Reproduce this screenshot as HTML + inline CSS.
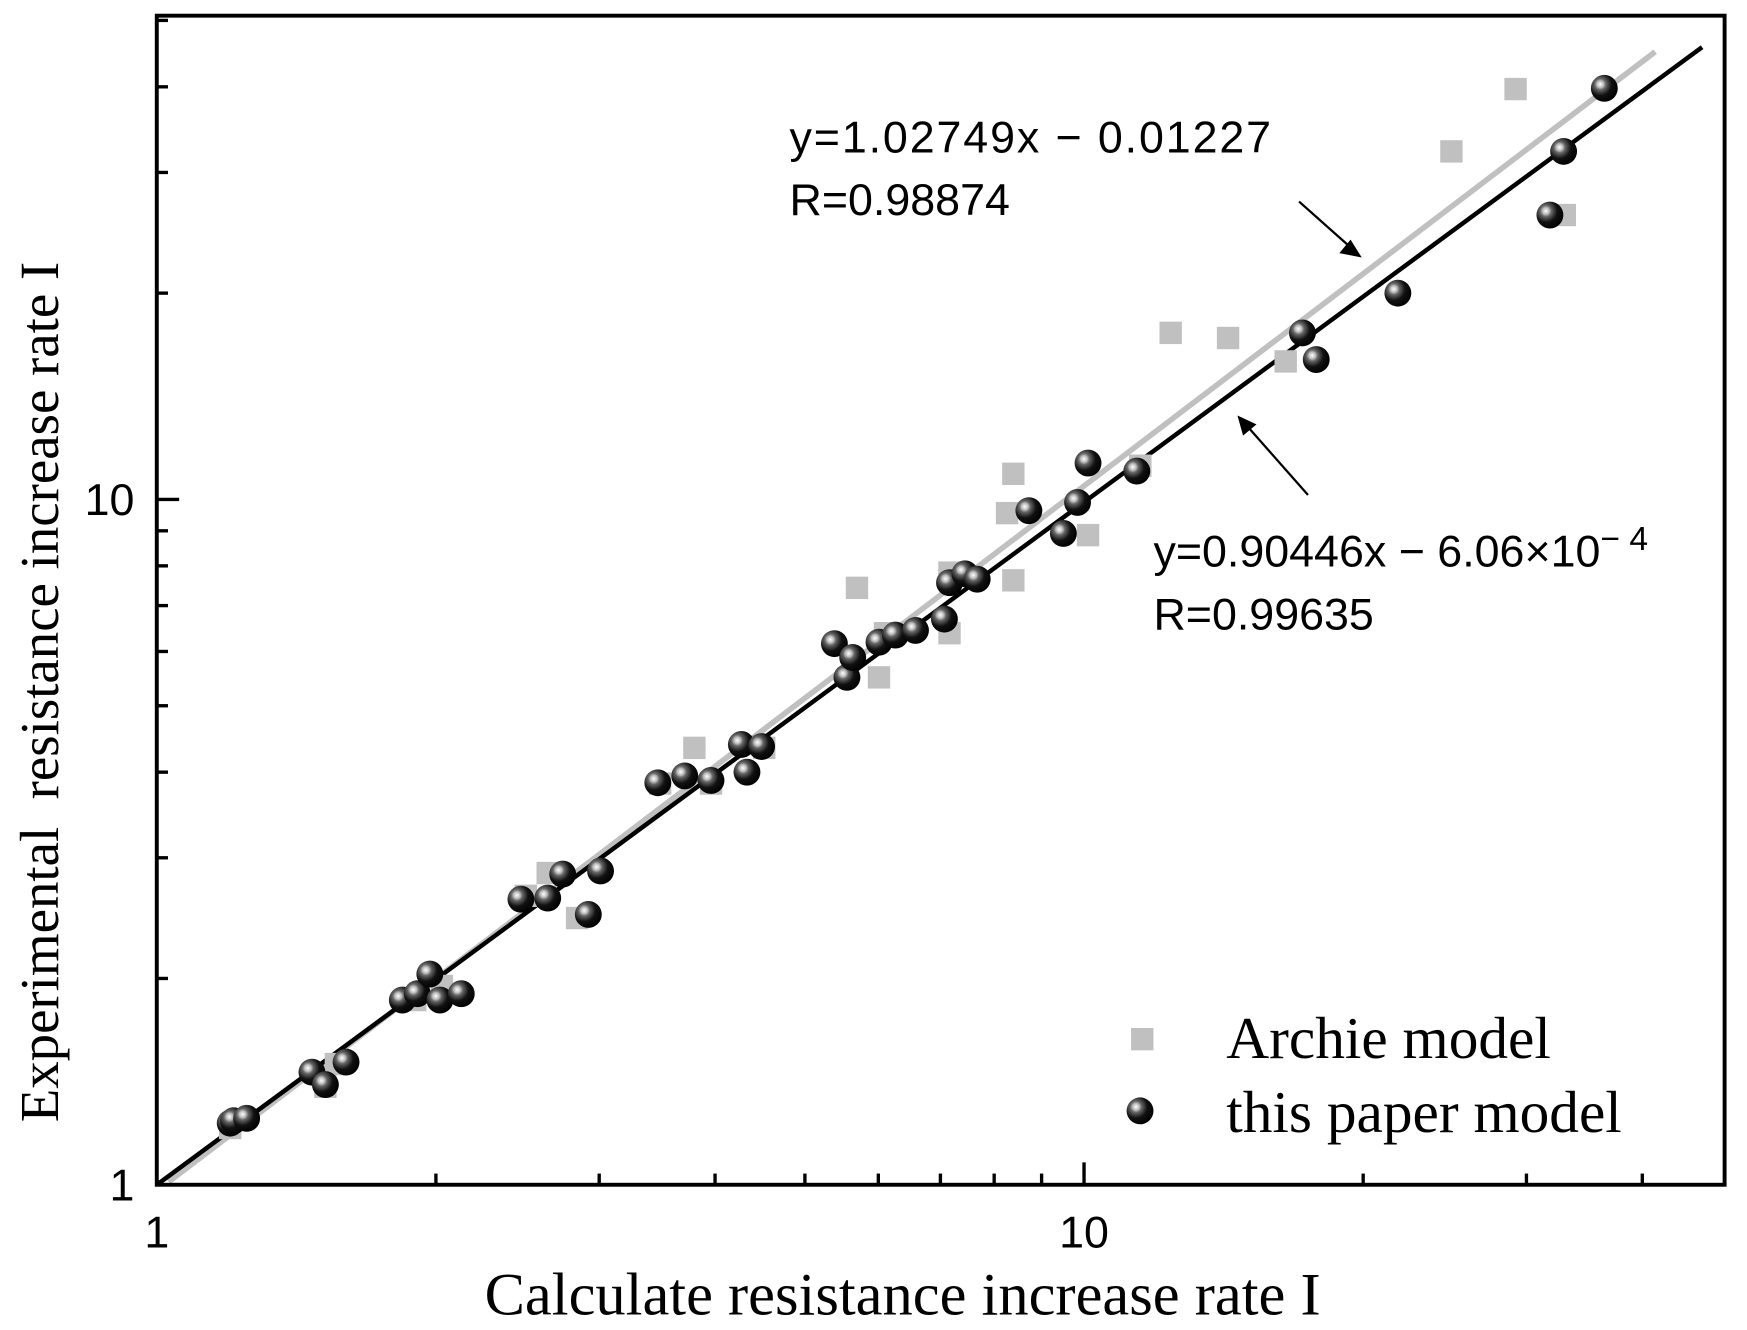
<!DOCTYPE html>
<html><head><meta charset="utf-8"><style>
html,body{margin:0;padding:0;background:#fff;}
svg{display:block;}
</style></head><body>
<svg id="chart" width="1747" height="1330" viewBox="0 0 1560 1187.7" preserveAspectRatio="none" xmlns="http://www.w3.org/2000/svg">
<defs>
<radialGradient id="sph" cx="0.35" cy="0.35" r="0.7">
<stop offset="0" stop-color="#fff"/><stop offset="0.18" stop-color="#bbb"/><stop offset="0.3" stop-color="#666"/><stop offset="0.6" stop-color="#111"/><stop offset="1" stop-color="#000"/>
</radialGradient>
</defs>
<g id="lines"></g>
<g id="marks"></g>
<g id="axes"></g>
<g font-family="Liberation Sans, sans-serif" font-size="40" fill="#000">
<text x="705" y="136" textLength="430">y=1.02749x − 0.01227</text>
<text x="705" y="192">R=0.98874</text>
<text x="1030" y="506">y=0.90446x − 6.06×10<tspan dy="-15" font-size="30">− 4</tspan></text>
<text x="1030" y="562">R=0.99635</text>
<line x1="1160" y1="180" x2="1205" y2="220" stroke="#000" stroke-width="2"/>
<polygon points="1216,230 1196,226 1206,214" fill="#000"/>
<line x1="1168" y1="442" x2="1115" y2="382" stroke="#000" stroke-width="2"/>
<polygon points="1105,371 1122,379 1110,389" fill="#000"/>
</g>
<g font-family="Liberation Serif, serif" font-size="53">
<rect x="1010" y="918" width="20" height="20" fill="#c0c0c0"/>
<text x="1095" y="945">Archie model</text>
<circle cx="1018" cy="992" r="12" fill="url(#sph)"/>
<text x="1095" y="1011">this paper model</text>
</g>
<text x="806" y="1174" text-anchor="middle" font-family="Liberation Serif, serif" font-size="54">Calculate resistance increase rate I</text>
<text transform="translate(52,618) rotate(-90)" text-anchor="middle" font-family="Liberation Serif, serif" font-size="49" xml:space="preserve">Experimental  resistance increase rate I</text>
</svg>
<script>
const archieX=[1.20,1.52,1.56,1.90,2.03,2.50,2.64,2.84,3.49,3.80,3.96,4.52,5.69,6.01,6.10,7.16,7.16,8.26,8.39,8.39,10.1,11.5,12.4,14.3,16.5,24.9,29.2,33.0];
const archieY=[1.21,1.39,1.50,1.86,1.95,2.64,2.85,2.45,3.85,4.34,3.85,4.34,7.43,5.50,6.38,6.38,7.82,9.55,10.9,7.62,8.87,11.2,17.5,17.2,15.9,32.2,39.7,26.0];
const paperX=[1.20,1.21,1.25,1.47,1.52,1.60,1.84,1.91,1.97,2.02,2.13,2.47,2.64,2.74,2.92,3.01,3.47,3.71,3.96,4.27,4.33,4.49,5.38,5.55,5.63,6.01,6.26,6.58,7.07,7.16,7.44,7.67,8.72,9.50,9.84,10.1,11.4,17.2,17.8,21.8,31.8,32.9,36.4];
const paperY=[1.23,1.24,1.25,1.46,1.40,1.51,1.86,1.90,2.03,1.86,1.90,2.61,2.62,2.84,2.48,2.87,3.86,3.95,3.89,4.39,4.00,4.36,6.16,5.50,5.88,6.19,6.34,6.44,6.69,7.56,7.79,7.65,9.63,8.92,9.90,11.3,11.0,17.5,16.0,20.0,26.0,32.2,39.8];
const archieFitX=[1.03,41.3], archieFitY=[1.01,45.0];
const paperFitX=[1.0,46.4], paperFitY=[1.0,45.7];
const xTickVals=[1,10], yTickVals=[1,10];
const xTickLabels=["1","10"], yTickLabels=["1","10"];
const minorVals=[2,3,4,5,6,7,8,9,20,30,40,50];

const L=140,R=1540,T=14,B=1058,XDEC=828,YDEC=612;
function sx(v){return L+Math.log10(v)*XDEC;}
function sy(v){return B-Math.log10(v)*YDEC;}
const NS="http://www.w3.org/2000/svg";
function mk(tag,parent,attrs){const e=document.createElementNS(NS,tag);for(const k in attrs)e.setAttribute(k,attrs[k]);parent.appendChild(e);return e;}
const lines=document.getElementById('lines'),marks=document.getElementById('marks'),axes=document.getElementById('axes');

let e=mk('line',lines,{x1:sx(archieFitX[0]),y1:sy(archieFitY[0]),x2:sx(archieFitX[1]),y2:sy(archieFitY[1]),stroke:'#c0c0c0','stroke-width':5});


e=mk('line',lines,{x1:sx(paperFitX[0]),y1:sy(paperFitY[0]),x2:sx(paperFitX[1]),y2:sy(paperFitY[1]),stroke:'#000','stroke-width':4});



for(let i=0;i<archieX.length;i++){
 const r=mk('rect',marks,{x:sx(archieX[i])-10,y:sy(archieY[i])-10,width:20,height:20,fill:'#c0c0c0'});
 
 
}
for(let i=0;i<paperX.length;i++){
 const c=mk('circle',marks,{cx:sx(paperX[i]),cy:sy(paperY[i]),r:12,fill:'url(#sph)'});
 
 
}

e=mk('rect',axes,{x:L,y:T,width:R-L,height:B-T,fill:'none',stroke:'#000','stroke-width':3.5});


const xMax=Math.pow(10,(R-L)/XDEC), yMax=Math.pow(10,(B-T)/YDEC);
minorVals.forEach(v=>{
 if(v<xMax){const t=mk('line',axes,{x1:sx(v),y1:B,x2:sx(v),y2:B-10,stroke:'#000','stroke-width':3});
 
 }
 if(v<yMax){const t=mk('line',axes,{x1:L,y1:sy(v),x2:L+10,y2:sy(v),stroke:'#000','stroke-width':3});
 
 }
});
xTickVals.forEach((v,i)=>{
 const t=mk('line',axes,{x1:sx(v),y1:B,x2:sx(v),y2:B-20,stroke:'#000','stroke-width':3});
 
 
 const s=mk('text',axes,{x:sx(v),y:B+56,'text-anchor':'middle','font-family':'Liberation Sans, sans-serif','font-size':40});
 s.textContent=xTickLabels[i];
 
 
});
yTickVals.forEach((v,i)=>{
 const t=mk('line',axes,{x1:L,y1:sy(v),x2:L+20,y2:sy(v),stroke:'#000','stroke-width':3});
 
 
 const s=mk('text',axes,{x:L-20,y:sy(v)+14,'text-anchor':'end','font-family':'Liberation Sans, sans-serif','font-size':40});
 s.textContent=yTickLabels[i];
 
 
});
</script>
</body></html>
